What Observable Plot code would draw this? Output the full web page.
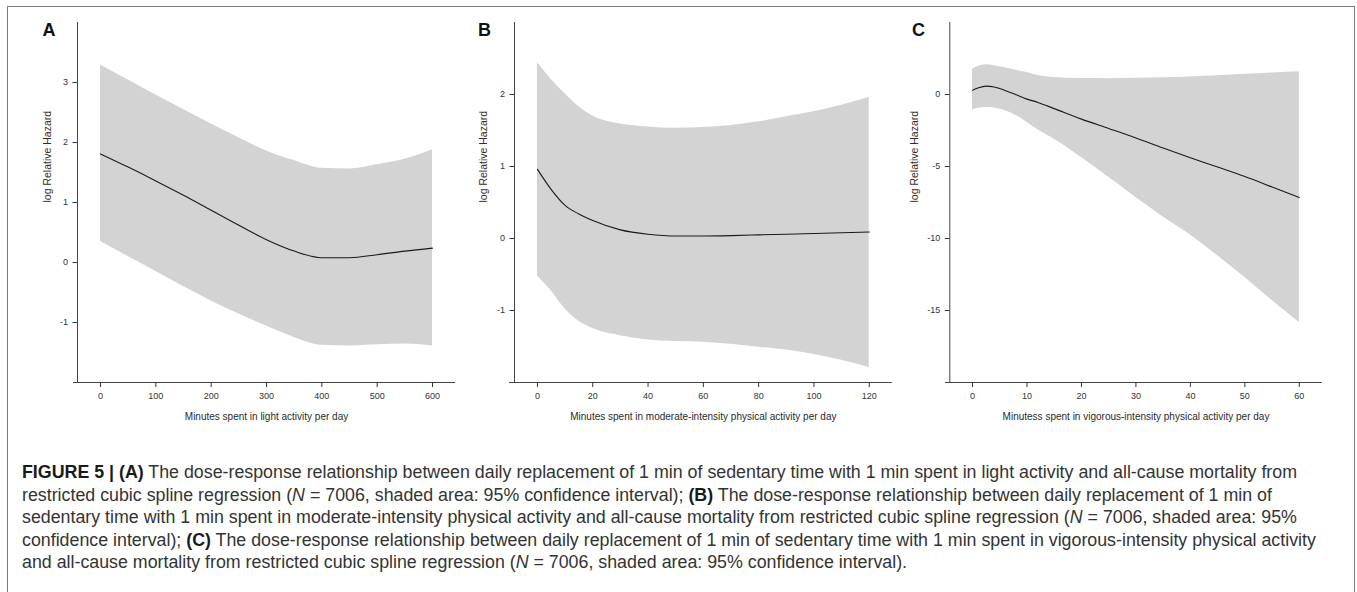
<!DOCTYPE html>
<html><head><meta charset="utf-8">
<script src="https://cdn.jsdelivr.net/npm/d3@7"></script>
<script src="https://cdn.jsdelivr.net/npm/@observablehq/plot@0.6"></script>
<style>
html,body{margin:0;padding:0;background:#fff;}
#root{position:relative;width:1357px;height:592px;overflow:hidden;background:#fff;font-family:"Liberation Sans",Arial,sans-serif;}
#frame{position:absolute;left:7px;top:6px;width:1348px;height:640px;border:1.5px solid #7b7b7b;border-bottom:none;box-sizing:border-box;}
.panel{position:absolute;top:0;}
#caption{position:absolute;left:22px;top:461px;line-height:22.5px;color:#333;font-family:"Liberation Sans",Arial,sans-serif;white-space:nowrap;font-size:17.5px;transform-origin:0 0;}
#caption b{color:#1a1a1a}
#caption div{display:block}
</style></head>
<body>
<div id="root">
  <div id="frame"></div>
  <div id="pA" class="panel"></div>
  <div id="pB" class="panel"></div>
  <div id="pC" class="panel"></div>
  <div id="caption">
    <div><span id="cap1"><b>FIGURE 5 | (A)</b> The dose-response relationship between daily replacement of 1 min of sedentary time with 1 min spent in light activity and all-cause mortality from</span></div>
    <div>restricted cubic spline regression (<i>N</i> = 7006, shaded area: 95% confidence interval); <b>(B)</b> The dose-response relationship between daily replacement of 1 min of</div>
    <div>sedentary time with 1 min spent in moderate-intensity physical activity and all-cause mortality from restricted cubic spline regression (<i>N</i> = 7006, shaded area: 95%</div>
    <div>confidence interval); <b>(C)</b> The dose-response relationship between daily replacement of 1 min of sedentary time with 1 min spent in vigorous-intensity physical activity</div>
    <div>and all-cause mortality from restricted cubic spline regression (<i>N</i> = 7006, shaded area: 95% confidence interval).</div>
  </div>
</div>
<script>
// ---- Panel A: light activity ----
const minutesA = [0, 50, 100, 150, 200, 250, 300, 350, 400, 450, 500, 550, 600];
const hazardA  = [1.81, 1.59, 1.36, 1.12, 0.87, 0.62, 0.38, 0.19, 0.08, 0.08, 0.13, 0.19, 0.24];
const lowerA   = [0.35, 0.10, -0.15, -0.40, -0.64, -0.86, -1.06, -1.25, -1.38, -1.39, -1.37, -1.36, -1.39];
const upperA   = [3.29, 3.04, 2.79, 2.55, 2.31, 2.08, 1.86, 1.70, 1.57, 1.56, 1.63, 1.72, 1.88];
const xTicksA  = [0, 100, 200, 300, 400, 500, 600];
const yTicksA  = [-1, 0, 1, 2, 3];

// ---- Panel B: moderate-intensity ----
const minutesB = [0, 5, 10, 15, 20, 30, 40, 50, 60, 70, 80, 90, 100, 110, 120];
const hazardB  = [0.96, 0.68, 0.46, 0.34, 0.25, 0.12, 0.06, 0.035, 0.035, 0.04, 0.05, 0.06, 0.07, 0.08, 0.09];
const lowerB   = [-0.52, -0.73, -0.98, -1.15, -1.25, -1.35, -1.41, -1.43, -1.44, -1.47, -1.51, -1.55, -1.61, -1.69, -1.79];
const upperB   = [2.44, 2.21, 2.01, 1.83, 1.70, 1.59, 1.55, 1.53, 1.54, 1.57, 1.62, 1.69, 1.76, 1.85, 1.96];
const xTicksB  = [0, 20, 40, 60, 80, 100, 120];
const yTicksB  = [-1, 0, 1, 2];

// ---- Panel C: vigorous-intensity ----
const minutesC = [0, 1, 2.5, 4, 6, 8, 10, 12, 15, 20, 25, 30, 35, 40, 45, 50, 55, 60];
const hazardC  = [0.30, 0.45, 0.58, 0.52, 0.28, -0.02, -0.32, -0.55, -0.98, -1.71, -2.36, -3.02, -3.72, -4.39, -5.04, -5.70, -6.42, -7.15];
const lowerC   = [-1.08, -0.95, -0.90, -0.93, -1.12, -1.45, -1.94, -2.45, -3.10, -4.37, -5.75, -7.15, -8.50, -9.75, -11.2, -12.7, -14.3, -15.83];
const upperC   = [1.76, 1.95, 2.06, 2.00, 1.85, 1.68, 1.53, 1.32, 1.18, 1.11, 1.10, 1.12, 1.16, 1.22, 1.30, 1.40, 1.50, 1.58];
const xTicksC  = [0, 10, 20, 30, 40, 50, 60];
const yTicksC  = [-15, -10, -5, 0];

const letters  = ["A", "B", "C"];
const xTitles  = ["Minutes spent in light activity per day",
                  "Minutes spent in moderate-intensity physical activity per day",
                  "Minutess spent in vigorous-intensity physical activity per day"];
const yTitle   = "log Relative Hazard";

function rows(xs, ys, lo, hi) { return xs.map((x, i) => ({x, y: ys[i], lo: lo[i], hi: hi[i]})); }

const panels = [
  {el: "pA", data: rows(minutesA, hazardA, lowerA, upperA), xTicks: xTicksA, yTicks: yTicksA,
   left: 0, width: 460, marginLeft: 77, marginRight: 5,
   xDomain: [-41.6, 641.6], xLineStart: -48.8, yDomain: [-2, 4], yTitleDx: -30, letterDx: -28.5},
  {el: "pB", data: rows(minutesB, hazardB, lowerB, upperB), xTicks: xTicksB, yTicks: yTicksB,
   left: 460, width: 440, marginLeft: 54, marginRight: 8.3,
   xDomain: [-8.3, 128.3], xLineStart: -10.1, yDomain: [-2, 3], yTitleDx: -30.7, letterDx: -30},
  {el: "pC", data: rows(minutesC, hazardC, lowerC, upperC), xTicks: xTicksC, yTicks: yTicksC,
   left: 900, width: 440, marginLeft: 49.3, marginRight: 18.3,
   xDomain: [-4.17, 64.2], xLineStart: -4.96, yDomain: [-20, 5], yTitleDx: -35.6, letterDx: -31.3}
];

const sans = '"Liberation Sans",Arial,sans-serif';

panels.forEach((p, i) => {
  const chart = Plot.plot({
    width: p.width, height: 430,
    marginLeft: p.marginLeft, marginRight: p.marginRight, marginTop: 22, marginBottom: 48,
    x: {domain: p.xDomain, axis: null},
    y: {domain: p.yDomain, axis: null},
    style: {background: "transparent", fontFamily: sans, overflow: "visible"},
    marks: [
      Plot.areaY(p.data, {x: "x", y1: "lo", y2: "hi", fill: "#d3d3d3", curve: "monotone-x"}),
      Plot.lineY(p.data, {x: "x", y: "y", stroke: "#1a1a1a", strokeWidth: 1.1, curve: "monotone-x"}),
      Plot.ruleX([p.xDomain[0]], {y1: p.yDomain[0], y2: p.yDomain[1], stroke: "#444", strokeWidth: 1}),
      Plot.ruleY([p.yDomain[0]], {x1: p.xLineStart, x2: p.xDomain[1], stroke: "#444", strokeWidth: 1}),
      Plot.axisX(p.xTicks, {tickSize: 5, tickPadding: 5, fontSize: 9, label: null, color: "#333", tickFormat: d => String(d)}),
      Plot.axisY(p.yTicks, {tickSize: 4.5, tickPadding: 5, fontSize: 9, label: null, color: "#2e3448", tickFormat: d => String(d)}),
      Plot.text([xTitles[i]], {frameAnchor: "bottom", dy: 34, fontSize: 10, fill: "#2a2a2a", lineAnchor: "middle"}),
      Plot.text([yTitle], {frameAnchor: "left", dx: p.yTitleDx, rotate: -90, fontSize: 10.5, fill: "#3b2b1f", lineAnchor: "middle"}),
      Plot.text([letters[i]], {frameAnchor: "top-left", dx: p.letterDx, dy: 7.7, fontSize: 18, fontWeight: "bold", fill: "#111",
        textAnchor: "middle", lineAnchor: "middle"})
    ]
  });
  const host = document.getElementById(p.el);
  host.style.left = p.left + "px";
  host.appendChild(chart);
});

// condense caption horizontally so the first line spans the reference width
const cap = document.getElementById("caption");
const w = document.getElementById("cap1").getBoundingClientRect().width;
cap.style.transform = "scaleX(" + (1275 / w).toFixed(4) + ")";
</script>
</body></html>
